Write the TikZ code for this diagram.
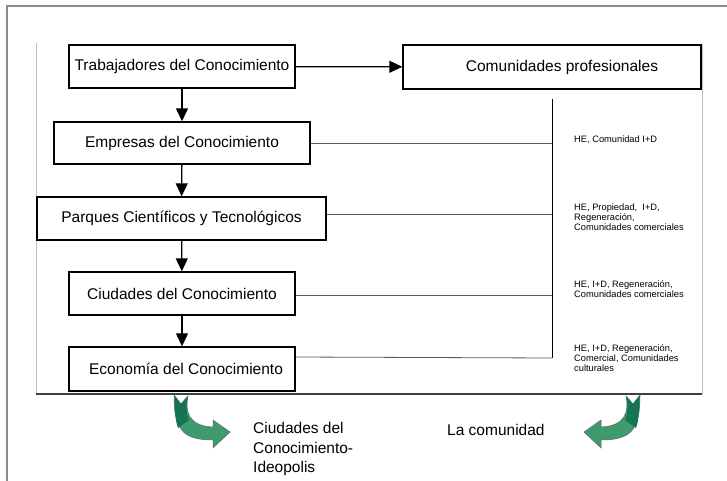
\documentclass[tikz,border=0pt]{standalone}
\usepackage{fontspec}
\setmainfont{Liberation Sans}
\usetikzlibrary{arrows.meta}
\definecolor{leafdark}{HTML}{157552}
\definecolor{leaflight}{HTML}{3E9B6D}

\begin{document}
\begin{tikzpicture}[x=1pt, y=-1pt,
    every node/.style={font=\fontsize{15.5}{18}\selectfont},
    stage/.style={draw, line width=1.4pt, minimum height=43pt, inner sep=0pt},
    flow/.style={line width=1.3pt, -{Triangle[width=12pt,length=13pt]}},
    link/.style={line width=0.8pt, draw=black!65},
    note/.style={anchor=west, align=left, inner sep=0pt, font=\fontsize{9.3}{10.3}\selectfont},
    outcome/.style={anchor=west, align=left, inner sep=0pt, font=\fontsize{15.5}{19.5}\selectfont},
    curvearrow/.pic={
        \path[fill=leaflight, draw=black!60, line width=0.5pt] (0,0) -- (7,9) -- (14,1)
            .. controls (11,16) and (14,31) .. (39,32) -- (39,25) -- (56,37) -- (39,53) -- (39,45)
            .. controls (8,45) and (0,34) .. (0,0) -- cycle;
        \path[fill=leafdark] (0.5,0.5) -- (7,9) -- (13.5,1.5)
            .. controls (12,12) and (12,18) .. (15,25) -- (4,33)
            .. controls (1,25) and (0.5,12) .. (0.5,0.5) -- cycle;
    }]

    \useasboundingbox (0,0) rectangle (727,481);

    % frame and panel
    \draw[black!45, line width=1.5pt] (7,481) -- (7,6) -- (727,6);
    \draw[black!25, line width=0.8pt] (36,394) -- (36,43);
    \draw[black!25, line width=0.8pt] (702,394) -- (702,43);
    \draw[black!75, line width=2pt] (36,394) -- (702,394);

    % stages
    \node[stage, minimum width=226pt] (trab) at (182,66.5) {Trabajadores del Conocimiento};
    \node[stage, minimum width=298pt, minimum height=44pt] (prof) at (552,67) {\hspace{20pt}Comunidades profesionales};
    \node[stage, minimum width=256pt, minimum height=42pt] (emp) at (182,143) {Empresas del Conocimiento\hspace{12pt}};
    \node[stage, minimum width=289pt] (parq) at (181.5,218.5) {Parques Científicos y Tecnológicos};
    \node[stage, minimum width=226pt] (ciud) at (182,293.5) {Ciudades del Conocimiento};
    \node[stage, minimum width=226pt, minimum height=44pt] (econ) at (182,369) {\hspace{8pt}Economía del Conocimiento};

    \draw[flow] (trab) -- (prof);
    \draw[flow] (trab) -- (emp);
    \draw[flow] (emp) -- (parq);
    \draw[flow] (parq) -- (ciud);
    \draw[flow] (ciud) -- (econ);

    % links to the right column
    \coordinate (vtop) at (552,99);
    \coordinate (vbot) at (552,358);
    \draw[line width=0.8pt] (vtop) -- (vbot);
    \draw[link] (emp.east) -- (emp.east -| vtop);
    \draw[link] ([yshift=4pt]parq.east) -- ([yshift=4pt]parq.east -| vtop);
    \draw[link] ([yshift=-2pt]ciud.east) -- ([yshift=-2pt]ciud.east -| vtop);
    \draw[link] ([yshift=12pt]econ.east) -- (vbot);

    \node[note] (n1) at (574,140) {HE, Comunidad I+D};
    \node[note] (n2) at (574,217) {HE, Propiedad,\ \ I+D,\\Regeneración,\\Comunidades comerciales};
    \node[note] (n3) at (574,289) {HE, I+D, Regeneración,\\Comunidades comerciales};
    \node[note] (n4) at (574,358) {HE, I+D, Regeneración,\\Comercial, Comunidades\\culturales};

    % outcomes
    \pic at (174,395) {curvearrow};
    \pic[xscale=-1] at (640,395) {curvearrow};
    \node[outcome] (ideo) at (253,449) {Ciudades del\\Conocimiento-\\Ideopolis};
    \node[outcome] (comu) at (447,430) {La comunidad};
\end{tikzpicture}
\end{document}
